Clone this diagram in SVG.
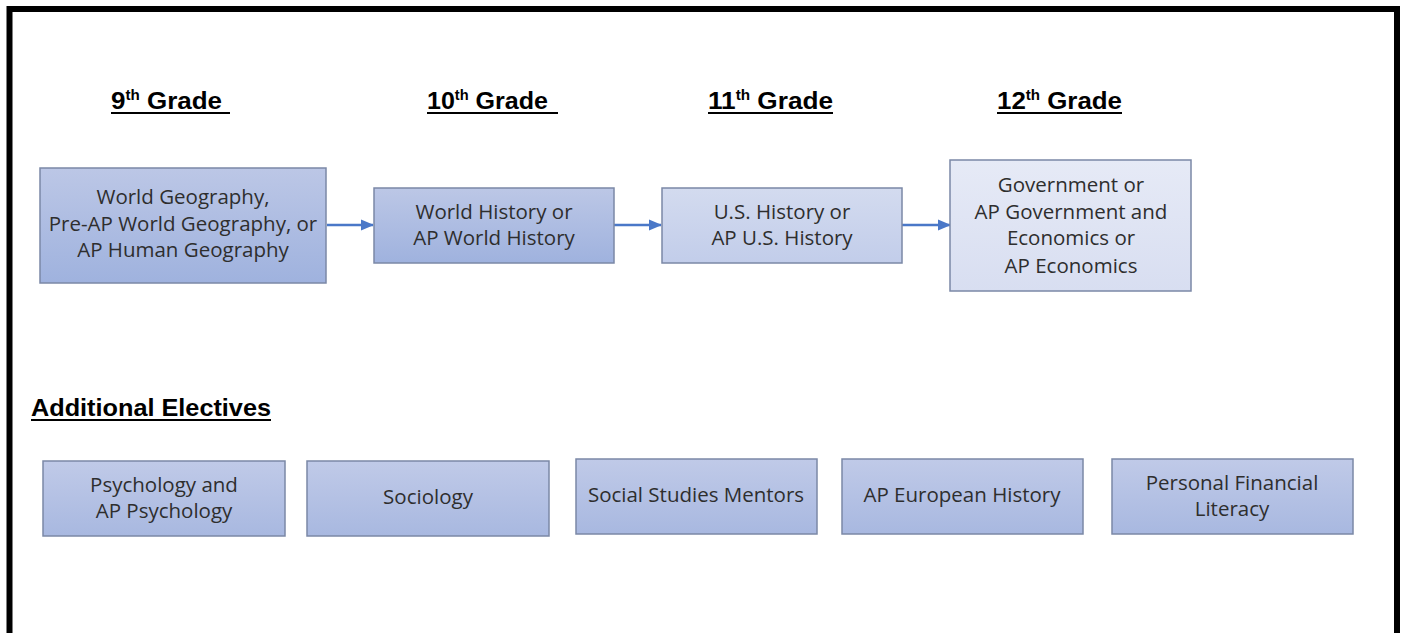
<svg xmlns="http://www.w3.org/2000/svg" width="1403" height="633" viewBox="0 0 1403 633">
<defs>
<linearGradient id="gDark" x1="0" y1="0" x2="0" y2="1"><stop offset="0" stop-color="#bcc7e6"/><stop offset="1" stop-color="#9fb2de"/></linearGradient>
<linearGradient id="gMid" x1="0" y1="0" x2="0" y2="1"><stop offset="0" stop-color="#d3dbef"/><stop offset="1" stop-color="#c2cdea"/></linearGradient>
<linearGradient id="gLight" x1="0" y1="0" x2="0" y2="1"><stop offset="0" stop-color="#e6eaf6"/><stop offset="1" stop-color="#d8def1"/></linearGradient>
<linearGradient id="gElec" x1="0" y1="0" x2="0" y2="1"><stop offset="0" stop-color="#c0cae8"/><stop offset="1" stop-color="#a8b8e0"/></linearGradient>
<marker id="ah" markerWidth="13" markerHeight="13" refX="12" refY="6.5" orient="auto" markerUnits="userSpaceOnUse"><path d="M0,1 L13,6.5 L0,12 Z" fill="#4a78c8"/></marker>
</defs>
<style>
.box{stroke:#7b88a6;stroke-width:1.5}
.t{font-family:"Open Sans","Noto Sans",sans-serif;font-size:20.5px;fill:#2e2e2e;text-anchor:middle}
.h{font-family:"Liberation Sans",Arial,sans-serif;font-weight:bold;font-size:24px;fill:#000}
.ul{stroke:#000;stroke-width:2}
.c{stroke:#4a78c8;stroke-width:2.5;fill:none}
</style>
<rect x="0" y="0" width="1403" height="633" fill="#fff"/>
<path d="M9.5,640 L9.5,9 L1397,9 L1397,640" fill="none" stroke="#000" stroke-width="6"/>

<g id="headers">
<text class="h" x="111" y="109" textLength="111" lengthAdjust="spacingAndGlyphs">9<tspan font-size="14" dy="-9">th</tspan><tspan dy="9"> Grade</tspan></text>
<line class="ul" x1="111" y1="113" x2="230" y2="113"/>
<text class="h" x="427" y="109" textLength="121" lengthAdjust="spacingAndGlyphs">10<tspan font-size="14" dy="-9">th</tspan><tspan dy="9"> Grade</tspan></text>
<line class="ul" x1="427" y1="113" x2="558" y2="113"/>
<text class="h" x="708" y="109" textLength="125" lengthAdjust="spacingAndGlyphs">11<tspan font-size="14" dy="-9">th</tspan><tspan dy="9"> Grade</tspan></text>
<line class="ul" x1="708" y1="113" x2="833" y2="113"/>
<text class="h" x="997" y="109" textLength="125" lengthAdjust="spacingAndGlyphs">12<tspan font-size="14" dy="-9">th</tspan><tspan dy="9"> Grade</tspan></text>
<line class="ul" x1="997" y1="113" x2="1122" y2="113"/>
<text class="h" x="31" y="416" textLength="240" lengthAdjust="spacingAndGlyphs">Additional Electives</text>
<line class="ul" x1="31" y1="420" x2="271" y2="420"/>
</g>

<g id="connectors">
<line class="c" x1="327" y1="225" x2="373" y2="225" marker-end="url(#ah)"/>
<line class="c" x1="614" y1="225" x2="661" y2="225" marker-end="url(#ah)"/>
<line class="c" x1="902" y1="225" x2="950" y2="225" marker-end="url(#ah)"/>
</g>

<g id="n9">
<rect class="box" x="40" y="168" width="286" height="115" fill="url(#gDark)"/>
<text class="t" x="183" y="204">World Geography,</text>
<text class="t" x="183" y="231">Pre-AP World Geography, or</text>
<text class="t" x="183" y="257">AP Human Geography</text>
</g>
<g id="n10">
<rect class="box" x="374" y="188" width="240" height="75" fill="url(#gDark)"/>
<text class="t" x="494" y="219">World History or</text>
<text class="t" x="494" y="245">AP World History</text>
</g>
<g id="n11">
<rect class="box" x="662" y="188" width="240" height="75" fill="url(#gMid)"/>
<text class="t" x="782" y="219">U.S. History or</text>
<text class="t" x="782" y="245">AP U.S. History</text>
</g>
<g id="n12">
<rect class="box" x="950" y="160" width="241" height="131" fill="url(#gLight)"/>
<text class="t" x="1071" y="192">Government or</text>
<text class="t" x="1071" y="219">AP Government and</text>
<text class="t" x="1071" y="245">Economics or</text>
<text class="t" x="1071" y="273">AP Economics</text>
</g>

<g id="e1">
<rect class="box" x="43" y="461" width="242" height="75" fill="url(#gElec)"/>
<text class="t" x="164" y="492">Psychology and</text>
<text class="t" x="164" y="518">AP Psychology</text>
</g>
<g id="e2">
<rect class="box" x="307" y="461" width="242" height="75" fill="url(#gElec)"/>
<text class="t" x="428" y="504">Sociology</text>
</g>
<g id="e3">
<rect class="box" x="576" y="459" width="241" height="75" fill="url(#gElec)"/>
<text class="t" x="696" y="502">Social Studies Mentors</text>
</g>
<g id="e4">
<rect class="box" x="842" y="459" width="241" height="75" fill="url(#gElec)"/>
<text class="t" x="962" y="502">AP European History</text>
</g>
<g id="e5">
<rect class="box" x="1112" y="459" width="241" height="75" fill="url(#gElec)"/>
<text class="t" x="1232" y="490">Personal Financial</text>
<text class="t" x="1232" y="516">Literacy</text>
</g>
</svg>
